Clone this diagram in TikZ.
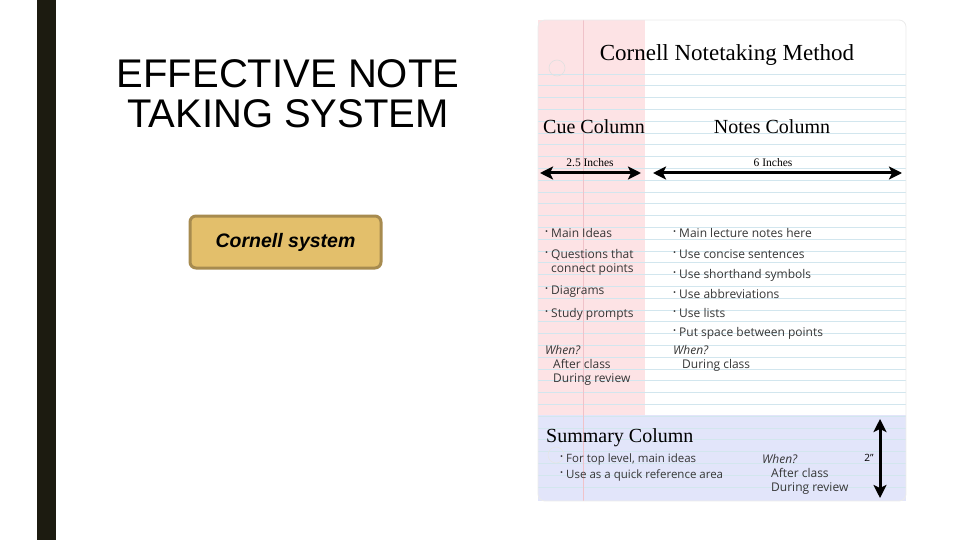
\documentclass[tikz,border=0pt]{standalone}
\usepackage{fontspec}
\setmainfont{Liberation Serif}
\setsansfont{Open Sans}
\newfontfamily\arialfont{Liberation Sans}
\usetikzlibrary{positioning, arrows.meta}
\definecolor{barblack}{HTML}{1C1B10}
\definecolor{cuepink}{HTML}{FDE3E5}
\definecolor{sumlav}{HTML}{E2E5FA}
\definecolor{rulecyan}{HTML}{D2E6EE}
\definecolor{marginred}{HTML}{F0C2C9}
\definecolor{btngold}{HTML}{E3BF6B}
\definecolor{btnedge}{HTML}{A78B4F}
\definecolor{inkgray}{HTML}{363636}
\newcommand{\bul}{\raisebox{0.35ex}{\fontsize{8}{8}\selectfont •}\kern3pt}

\begin{document}
\begin{tikzpicture}[x=1pt, y=-1pt,
  title/.style={font=\arialfont\fontsize{40}{40}\selectfont, align=center, text=black},
  button/.style={draw=btnedge, line width=3pt, fill=btngold, rounded corners=6pt,
                 minimum width=191pt, minimum height=52pt,
                 font=\arialfont\bfseries\itshape\fontsize{19.5}{20}\selectfont},
  head/.style={font=\fontsize{#1}{#1}\selectfont, inner sep=0pt, text=black},
  dim/.style={font=\fontsize{11.5}{11.5}\selectfont, inner sep=0pt, text=black},
  item/.style={font=\sffamily\fontsize{12}{14}\selectfont, anchor=base west, inner sep=0pt,
               text=inkgray, align=left},
  rule/.style={rulecyan, line width=0.8pt},
  span/.style={{Stealth[length=13pt, width=13pt, inset=3pt]}-{Stealth[length=13pt, width=13pt, inset=3pt]},
               line width=3pt, black}]
  \useasboundingbox (0,0) rectangle (960,540);
  % Side bar
  \fill[barblack] (37,0) rectangle (56,540);
  % Title and button
  \node[title] (title) at (288,94) {EFFECTIVE NOTE\\TAKING SYSTEM};
  \node[button] (cornell) at (285.5,242) {Cornell system};
  % Paper
  \fill[white] (538,20) rectangle (906,501);
  \fill[cuepink] (538,20) rectangle (645,415);
  \fill[sumlav] (538,415) rectangle (906,501);
  \foreach \i in {0,...,35}
    \draw[rule] (538,74+11.8*\i) -- (906,74+11.8*\i);
  \draw[marginred, line width=0.8pt] (583,20) -- (583,501);
  \draw[black!12, line width=0.6pt] (557,68) circle (8);
  \draw[black!10, line width=0.6pt] (556,455) circle (8);
  \draw[black!8, line width=0.8pt, rounded corners=7pt] (538,20) rectangle (906,501);
  % Headings
  \node[head=23] (method) at (727,55) {Cornell Notetaking Method};
  \node[head=20, anchor=west] (cue) at (543,127) {Cue Column};
  \node[head=20] (notes) at (772,127) {Notes Column};
  \node[head=20, anchor=west] (summary) at (546,438) {Summary Column};
  % Widths
  \node[dim] (cuew) at (590,163) {2.5 Inches};
  \node[dim] (notesw) at (773,163) {6 Inches};
  \node[dim, font=\sffamily\fontsize{10}{10}\selectfont] (sumh) at (869,458) {2''};
  \coordinate (cuel) at (540,173);
  \coordinate (cuer) at (641,173);
  \coordinate (notesl) at (653,173);
  \coordinate (notesr) at (902,173);
  \coordinate (sumt) at (880,419);
  \coordinate (sumb) at (880,498);
  \draw[span] (cuel) -- (cuer);
  \draw[span] (notesl) -- (notesr);
  \draw[span] (sumt) -- (sumb);
  % Cue column
  \node[item] (c1) at (545,237) {\bul Main Ideas};
  \node[item] (c2) at (545,272) {\bul Questions that\\\hspace*{6pt}connect points};
  \node[item] (c3) at (545,294) {\bul Diagrams};
  \node[item] (c4) at (545,317) {\bul Study prompts};
  \node[item] (cw) at (545,382) {{\itshape When?}\\\hspace*{8pt}After class\\\hspace*{8pt}During review};
  % Notes column
  \node[item] (n1) at (673,237) {\bul Main lecture notes here};
  \node[item] (n2) at (673,258) {\bul Use concise sentences};
  \node[item] (n3) at (673,278) {\bul Use shorthand symbols};
  \node[item] (n4) at (673,298) {\bul Use abbreviations};
  \node[item] (n5) at (673,317) {\bul Use lists};
  \node[item] (n6) at (673,336) {\bul Put space between points};
  \node[item] (nw) at (673,368) {{\itshape When?}\\\hspace*{9pt}During class};
  % Summary column
  \node[item, font=\sffamily\fontsize{11.5}{14.5}\selectfont] (s1) at (560,462) {\bul For top level, main ideas};
  \node[item, font=\sffamily\fontsize{11.5}{14.5}\selectfont] (s2) at (560,478) {\bul Use as a quick reference area};
  \node[item] (sw) at (762,491) {{\itshape When?}\\\hspace*{9pt}After class\\\hspace*{9pt}During review};
\end{tikzpicture}
\end{document}
